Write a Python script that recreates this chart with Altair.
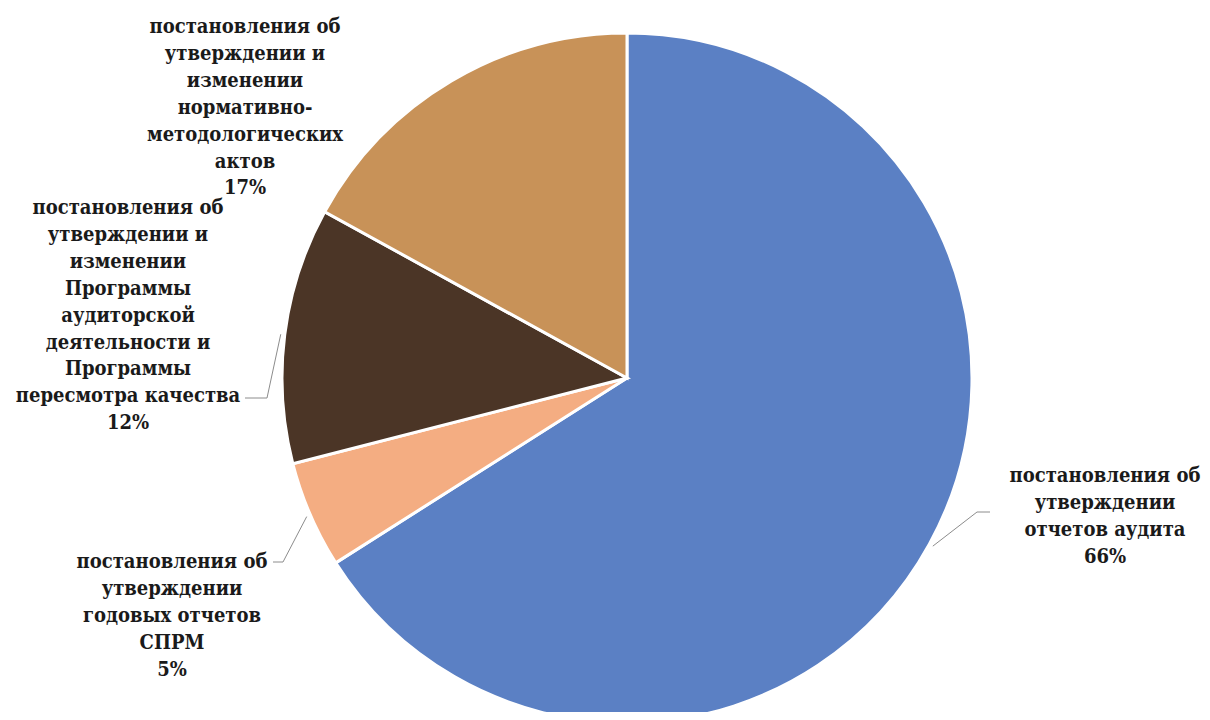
import math
import altair as alt
import pandas as pd

# ---- data ----
categories = [
    "постановления об утверждении отчетов аудита",
    "постановления об утверждении годовых отчетов СПРМ",
    "постановления об утверждении и изменении Программы аудиторской деятельности  и Программы пересмотра качества",
    "постановления об утверждении и изменении нормативно-методологических актов",
]
values = [66, 5, 12, 17]
label_lines = [
    ["постановления об", "утверждении", "отчетов аудита"],
    ["постановления об", "утверждении", "годовых отчетов", "СПРМ"],
    ["постановления об", "утверждении и", "изменении", "Программы", "аудиторской",
     "деятельности  и", "Программы", "пересмотра качества"],
    ["постановления об", "утверждении и", "изменении", "нормативно-",
     "методологических", "актов"],
]
colors = ["#5b80c4", "#f4ad82", "#4b3526", "#c89258"]

# ---- layout (chart pixel space) ----
W, H = 1194, 704
CX, CY, R = 619, 370, 345
LINE_H = 26.9
FONT = "DejaVu Serif Condensed, DejaVu Serif"
FS = 20
# label block: center x, first line center y
label_pos = [(1097, 468), (164, 554), (120, 200), (237, 19)]
# leader line: elbow and end points (None = no leader)
leaders = [((969, 504), (982, 504)), ((275, 554), (265, 554)),
           ((259, 390), (237, 390)), None]

pie_df = pd.DataFrame({"cat": categories, "value": values,
                       "order": list(range(len(values)))})

total = sum(values)
rows = []
lead_rows = []
cum = 0
for i, (lines, v) in enumerate(zip(label_lines, values)):
    pct = f"{round(100 * v / total)}%"
    allines = lines + [pct]
    lx, ly = label_pos[i]
    for j, t in enumerate(allines):
        rows.append({"t": t, "x": lx, "y": ly + j * LINE_H})
    mid = (cum + v / 2) / total * 2 * math.pi
    cum += v
    if leaders[i] is not None:
        sx = CX + (R + 4) * math.sin(mid)
        sy = CY - (R + 4) * math.cos(mid)
        (ex, ey), (fx, fy) = leaders[i]
        for k, (px, py) in enumerate([(sx, sy), (ex, ey), (fx, fy)]):
            lead_rows.append({"g": i, "k": k, "x": px, "y": py})

text_df = pd.DataFrame(rows)
lead_df = pd.DataFrame(lead_rows)

pie = alt.Chart(pie_df).mark_arc(
    outerRadius=R, stroke="white", strokeWidth=3
).encode(
    theta=alt.Theta("value:Q", stack=True),
    order=alt.Order("order:Q"),
    color=alt.Color("cat:N", scale=alt.Scale(domain=categories, range=colors), legend=None),
    x=alt.value(CX), y=alt.value(CY),
)

lead = alt.Chart(lead_df).mark_line(color="#8c8c8c", strokeWidth=1).encode(
    x=alt.X("x:Q", scale=None),
    y=alt.Y("y:Q", scale=None),
    detail="g:N",
    order="k:Q",
)

text = alt.Chart(text_df).mark_text(
    font=FONT, fontSize=FS, fontWeight="bold", color="#1a1a1a",
    align="center", baseline="middle",
).encode(
    x=alt.X("x:Q", scale=None),
    y=alt.Y("y:Q", scale=None),
    text="t:N",
)

chart = alt.layer(pie, lead, text).properties(
    width=W, height=H, padding=0,
    autosize=alt.AutoSizeParams(type="none"),
).configure_view(stroke=None)

chart.save("out.html", embed_options={"renderer": "svg", "actions": False})
